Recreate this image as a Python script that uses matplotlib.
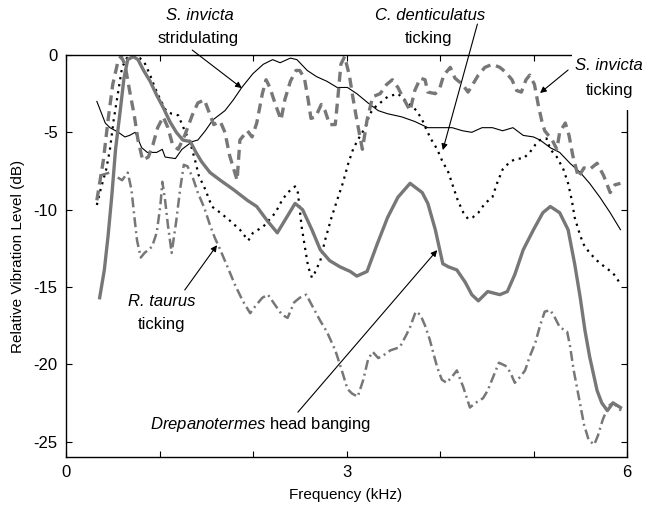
import matplotlib
matplotlib.use("Agg")
import matplotlib.pyplot as plt
from matplotlib.patches import Rectangle

plt.rcParams['font.family'] = ['Liberation Sans', 'DejaVu Sans']
plt.rcParams['axes.unicode_minus'] = False
plt.rcParams['mathtext.fontset'] = 'custom'
plt.rcParams['mathtext.it'] = 'Liberation Sans:italic'
plt.rcParams['mathtext.rm'] = 'Liberation Sans'

# Datos (frecuencia en kHz, nivel en dB)
strid_x = [0.33, 0.42, 0.47, 0.56, 0.63, 0.68, 0.74, 0.81, 0.87, 0.97, 1.03, 1.06, 1.17, 1.24, 1.35,
           1.41, 1.49, 1.57, 1.70, 1.79, 1.88, 2.00, 2.11, 2.21, 2.29, 2.40, 2.47, 2.58, 2.68, 2.79,
           2.90, 3.01, 3.11, 3.23, 3.34, 3.44, 3.59, 3.73, 3.87, 4.02, 4.13, 4.24, 4.34, 4.45, 4.56,
           4.67, 4.78, 4.89, 5.00, 5.07, 5.18, 5.28, 5.39, 5.50, 5.60, 5.71, 5.82, 5.93]
strid_y = [-3.0, -4.4, -4.7, -5.0, -5.3, -5.2, -5.0, -6.0, -6.3, -6.3, -6.1, -6.6, -6.7, -6.1, -5.6,
           -5.5, -4.9, -4.2, -3.6, -2.9, -2.1, -1.2, -0.6, -0.3, -0.5, -0.2, -0.3, -1.0, -1.4, -1.7,
           -2.1, -2.1, -2.5, -3.1, -3.6, -3.8, -4.0, -4.3, -4.7, -4.7, -4.7, -4.9, -5.0, -4.7, -4.7,
           -4.9, -4.7, -5.2, -5.3, -5.5, -6.0, -6.3, -7.0, -7.6, -8.3, -9.2, -10.2, -11.3]

drep_x = [0.36, 0.41, 0.45, 0.49, 0.53, 0.58, 0.62, 0.66, 0.72, 0.77, 0.83, 0.90, 0.97, 1.04, 1.11,
          1.18, 1.25, 1.33, 1.39, 1.45, 1.54, 1.65, 1.79, 1.94, 2.04, 2.15, 2.26, 2.36, 2.45, 2.53,
          2.63, 2.72, 2.82, 2.93, 3.04, 3.11, 3.22, 3.33, 3.44, 3.55, 3.68, 3.81, 3.87, 3.95, 4.03,
          4.09, 4.18, 4.27, 4.34, 4.41, 4.51, 4.64, 4.72, 4.80, 4.89, 5.00, 5.10, 5.18, 5.28, 5.37,
          5.44, 5.50, 5.55, 5.60, 5.68, 5.73, 5.79, 5.85, 5.93]
drep_y = [-15.7, -13.9, -11.7, -9.1, -6.1, -3.6, -1.5, -0.3, -0.1, -0.3, -1.0, -1.7, -2.6, -3.4, -4.3,
          -5.0, -5.5, -5.6, -6.3, -6.9, -7.6, -8.1, -8.7, -9.4, -9.8, -10.7, -11.5, -10.5, -9.6, -10.0,
          -11.3, -12.6, -13.3, -13.7, -14.0, -14.3, -14.0, -12.2, -10.5, -9.2, -8.3, -8.9, -9.6, -11.3, -13.5,
          -13.7, -13.9, -14.7, -15.5, -15.9, -15.3, -15.5, -15.3, -14.2, -12.6, -11.3, -10.2, -9.8, -10.2, -11.3,
          -13.5, -15.7, -17.8, -19.5, -21.7, -22.5, -23.0, -22.5, -22.8]

dent_x = [0.33, 0.37, 0.43, 0.47, 0.51, 0.56, 0.60, 0.65, 0.72, 0.79, 0.84, 0.90, 0.95, 1.01, 1.07,
          1.13, 1.20, 1.27, 1.33, 1.38, 1.42, 1.49, 1.56, 1.65, 1.75, 1.86, 1.95, 2.00, 2.11, 2.24,
          2.31, 2.37, 2.45, 2.48, 2.50, 2.52, 2.56, 2.59, 2.63, 2.66, 2.72, 2.77, 2.84, 2.91, 2.96,
          3.02, 3.07, 3.12, 3.20, 3.25, 3.30, 3.36, 3.44, 3.55, 3.66, 3.75, 3.81, 3.86, 3.91, 3.97,
          4.02, 4.09, 4.14, 4.19, 4.25, 4.30, 4.35, 4.41, 4.48, 4.56, 4.61, 4.67, 4.75, 4.82, 4.89,
          4.96, 5.02, 5.07, 5.14, 5.18, 5.25, 5.32, 5.37, 5.41, 5.44, 5.48, 5.53, 5.60, 5.68, 5.76,
          5.85, 5.93]
dent_y = [-9.7, -8.7, -7.4, -6.1, -4.2, -2.3, -0.8, -0.2, -0.1, -0.2, -0.5, -1.3, -2.1, -2.9, -3.6,
          -3.8, -3.9, -4.9, -5.7, -6.8, -7.8, -8.7, -9.8, -10.2, -10.7, -11.3, -12.0, -11.5, -11.1, -10.2,
          -9.4, -8.9, -8.5, -8.9, -10.0, -11.1, -12.6, -13.7, -14.4, -14.1, -13.3, -12.0, -10.5, -9.2, -8.3,
          -7.0, -6.1, -5.5, -4.7, -3.8, -3.4, -3.1, -2.7, -2.5, -3.1, -3.6, -4.2, -4.9, -5.5, -6.1,
          -6.8, -7.6, -8.5, -9.4, -10.2, -10.6, -10.5, -10.2, -9.6, -9.2, -8.3, -7.4, -6.9, -6.7, -6.7,
          -6.3, -5.8, -5.5, -5.4, -6.1, -6.6, -7.4, -8.3, -9.4, -10.5, -11.3, -12.2, -12.8, -13.3, -13.7,
          -14.1, -14.8]

tick_x = [0.33, 0.40, 0.45, 0.50, 0.56, 0.59, 0.63, 0.68, 0.73, 0.77, 0.82, 0.88, 0.93, 0.98, 1.04,
          1.09, 1.14, 1.20, 1.27, 1.35, 1.41, 1.48, 1.53, 1.58, 1.65, 1.70, 1.75, 1.83, 1.86, 1.94,
          1.99, 2.04, 2.10, 2.14, 2.18, 2.24, 2.30, 2.34, 2.40, 2.46, 2.50, 2.55, 2.59, 2.62, 2.67,
          2.73, 2.77, 2.82, 2.88, 2.91, 2.94, 2.98, 3.03, 3.07, 3.11, 3.17, 3.22, 3.28, 3.36, 3.43,
          3.49, 3.55, 3.60, 3.68, 3.73, 3.79, 3.84, 3.87, 3.95, 4.00, 4.04, 4.11, 4.16, 4.24, 4.30,
          4.35, 4.41, 4.48, 4.56, 4.64, 4.70, 4.77, 4.82, 4.87, 4.92, 4.96, 5.01, 5.05, 5.09, 5.12,
          5.20, 5.25, 5.28, 5.34, 5.38, 5.42, 5.48, 5.54, 5.60, 5.68, 5.75, 5.82, 5.87, 5.93]
tick_y = [-9.4, -6.8, -4.2, -1.9, -0.3, -0.1, -0.6, -2.3, -3.9, -5.5, -6.8, -6.6, -5.8, -4.7, -4.0,
          -4.7, -5.8, -6.1, -5.2, -3.9, -3.1, -2.9, -3.7, -4.5, -4.3, -5.0, -6.5, -8.1, -5.5, -4.9,
          -5.3, -4.4, -2.5, -1.6, -2.1, -3.2, -4.2, -2.9, -1.7, -1.0, -1.0, -1.5, -2.9, -4.1, -4.0,
          -3.2, -3.6, -4.5, -4.5, -2.6, -0.6, -0.1, -1.3, -2.8, -4.2, -6.1, -4.2, -2.7, -2.5, -1.9,
          -1.6, -2.1, -2.7, -3.6, -2.3, -1.5, -1.6, -2.4, -2.5, -2.1, -1.3, -0.8, -1.5, -1.9, -2.4,
          -1.9, -1.3, -0.8, -0.6, -0.8, -1.1, -1.6, -2.3, -2.4, -1.6, -1.3, -1.9, -3.2, -4.3, -4.9,
          -5.5, -6.1, -5.0, -4.4, -5.2, -6.5, -7.9, -7.3, -7.4, -7.0, -7.8, -8.9, -8.4, -8.3]

taur_x = [0.36, 0.47, 0.60, 0.66, 0.70, 0.73, 0.76, 0.80, 0.84, 0.92, 0.97, 1.01, 1.03, 1.06, 1.09,
          1.13, 1.18, 1.22, 1.26, 1.30, 1.36, 1.41, 1.48, 1.54, 1.59, 1.65, 1.72, 1.81, 1.89, 1.97,
          2.03, 2.10, 2.16, 2.24, 2.31, 2.37, 2.44, 2.50, 2.57, 2.64, 2.72, 2.79, 2.88, 2.95, 3.01,
          3.06, 3.12, 3.18, 3.23, 3.28, 3.34, 3.40, 3.47, 3.57, 3.64, 3.68, 3.74, 3.79, 3.84, 3.89,
          3.97, 4.02, 4.07, 4.13, 4.18, 4.25, 4.32, 4.38, 4.46, 4.51, 4.57, 4.63, 4.70, 4.75, 4.80,
          4.86, 4.91, 4.96, 5.02, 5.07, 5.12, 5.18, 5.23, 5.28, 5.36, 5.39, 5.43, 5.49, 5.54, 5.59,
          5.65, 5.69, 5.74, 5.80, 5.85, 5.89, 5.95]
taur_y = [-7.8, -7.6, -8.1, -7.6, -8.7, -10.4, -12.0, -13.1, -12.8, -12.4, -11.5, -9.7, -8.2, -9.4, -11.0,
          -12.8, -10.7, -8.7, -7.1, -7.2, -8.0, -8.9, -9.9, -11.0, -11.8, -12.6, -13.6, -14.9, -15.9, -16.7,
          -16.2, -15.7, -15.5, -16.2, -16.8, -17.0, -16.0, -15.7, -15.5, -16.3, -17.2, -17.9, -19.1, -20.4, -21.6,
          -21.9, -22.1, -21.0, -19.7, -19.2, -19.6, -19.4, -19.1, -18.9, -18.1, -17.6, -16.6, -16.8, -17.5, -18.4,
          -20.2, -21.0, -21.2, -20.8, -20.4, -21.5, -22.8, -22.5, -22.2, -21.7, -20.8, -19.9, -20.1, -20.5, -21.2,
          -20.8, -20.4, -19.5, -18.6, -17.5, -16.6, -16.5, -17.0, -17.6, -17.9, -18.8, -20.4, -22.3, -23.9, -24.9,
          -25.2, -24.6, -23.6, -22.7, -22.5, -22.7, -23.1]

x_ticks = [0, 1, 2, 3, 4, 5, 6]
x_labels = ['0', '', '', '3', '', '', '6']
y_ticks = [0, -5, -10, -15, -20, -25]

gris = '#777777'
W, H = 648, 509

fig = plt.figure(figsize=(6.48, 5.09), dpi=100)
ax = fig.add_axes([66 / W, 52 / H, 561 / W, 402 / H])

ax.plot(strid_x, strid_y, color='black', lw=0.8)
ax.plot(dent_x, dent_y, color='black', lw=1.6, linestyle=(0, (1, 2.2)))
ax.plot(tick_x, tick_y, color=gris, lw=2.4, linestyle=(0, (3.0, 1.8)))
ax.plot(taur_x, taur_y, color=gris, lw=1.8, linestyle=(0, (4.0, 1.6, 0.8, 1.6)))
ax.plot(drep_x, drep_y, color=gris, lw=2.4)

ax.set_xlim(0, 6)
ax.set_ylim(-26, 0)
ax.set_xticks(x_ticks)
ax.set_xticklabels(x_labels)
ax.set_yticks(y_ticks)
ax.tick_params(direction='in', top=True, right=True, length=4, labelsize=12, pad=6)
for s in ax.spines.values():
    s.set_linewidth(1.0)

fig.text(18 / W, 1 - 256 / H, 'Relative Vibration Level (dB)', rotation=90,
         ha='center', va='center', fontsize=11)
fig.text(346 / W, 1 - 495 / H, 'Frequency (kHz)', ha='center', va='center', fontsize=11)

# tapa blanca en la esquina superior derecha (tapa el marco)
fig.patches.append(Rectangle((572 / W, 1 - 110 / H), 1 - 572 / W, 80 / H,
                             transform=fig.transFigure, facecolor='white',
                             edgecolor='none', zorder=5))

# textos de las anotaciones
def etiqueta(px, py, s, italic=False):
    fig.text(px / W, 1 - py / H, s, ha='center', va='center', fontsize=12,
             fontstyle='italic' if italic else 'normal', zorder=6)

etiqueta(200, 16, 'S. invicta', True)
etiqueta(198, 39, 'stridulating')
etiqueta(430, 16, 'C. denticulatus', True)
etiqueta(428, 39, 'ticking')
etiqueta(609, 66, 'S. invicta', True)
etiqueta(609, 90, 'ticking')
etiqueta(162, 302, 'R. taurus', True)
etiqueta(162, 324, 'ticking')
etiqueta(261, 425, r'$\it{Drepanotermes}$ head banging')

flecha = dict(arrowstyle='-|>', color='black', lw=0.8, mutation_scale=9,
              shrinkA=0, shrinkB=0)
ax.annotate('', xy=(1.88, -2.14), xytext=(1.35, 0.32), arrowprops=flecha, annotation_clip=False)
ax.annotate('', xy=(4.03, -6.15), xytext=(4.40, 2.0), arrowprops=flecha, annotation_clip=False)
ax.annotate('', xy=(5.07, -2.46), xytext=(5.37, -0.97), arrowprops=flecha, annotation_clip=False)
ax.annotate('', xy=(1.615, -12.3), xytext=(1.27, -15.2), arrowprops=flecha, annotation_clip=False)
ax.annotate('', xy=(3.97, -12.62), xytext=(2.48, -23.1), arrowprops=flecha, annotation_clip=False)

fig.savefig('out.png', dpi=100)
